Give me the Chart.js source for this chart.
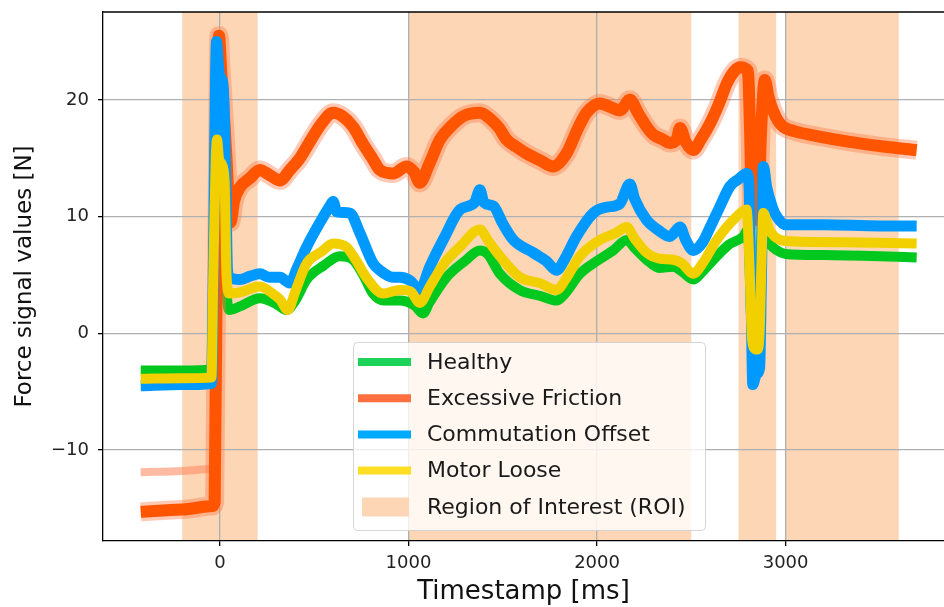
<!DOCTYPE html>
<html>
<head>
<meta charset="utf-8">
<script src="https://cdn.jsdelivr.net/npm/chart.js@4.4.1/dist/chart.umd.min.js"></script>
<style>
  body { margin: 0; background: #fff; }
  canvas { display: block; }
</style>
</head>
<body>
<canvas id="force-chart" width="944" height="607"></canvas>
<script>
// Values (ms, N)
const healthyT = [-420, -200, -45, -30, -18, -5, 10, 25, 35, 50, 106, 212, 300, 353, 400, 460, 550, 636, 706, 760, 812, 870, 954, 1030, 1078, 1110, 1202, 1300, 1379, 1420, 1485, 1591, 1700, 1785, 1830, 1909, 2000, 2086, 2157, 2200, 2263, 2330, 2404, 2450, 2510, 2560, 2635, 2700, 2776, 2800, 2812, 2822, 2845, 2862, 2875, 2890, 2920, 2955, 3000, 3200, 3500, 3695];
const healthyV = [-3.2, -3.2, -3.1, 10, 16, 15.5, 14, 12, 4, 2.0, 2.3, 3.0, 2.5, 2.0, 2.8, 4.6, 5.8, 6.6, 6.3, 5.0, 3.4, 2.8, 2.8, 2.4, 1.7, 2.6, 4.8, 6.2, 7.1, 6.8, 5.1, 3.7, 3.2, 2.8, 3.4, 5.1, 6.2, 7.1, 8.0, 7.3, 6.3, 5.6, 5.7, 5.3, 4.6, 5.3, 6.6, 7.6, 8.3, 8.9, 4, -0.5, -0.7, 2, 9.3, 8.6, 7.6, 7.1, 6.8, 6.7, 6.6, 6.5];

const frictionT = [-420, -200, -40, -28, -15, -5, 5, 20, 35, 50, 56, 75, 106, 160, 212, 260, 318, 371, 424, 480, 540, 600, 650, 706, 760, 812, 848, 918, 990, 1030, 1060, 1110, 1167, 1230, 1290, 1379, 1432, 1480, 1520, 1570, 1626, 1700, 1767, 1838, 1900, 1944, 2015, 2070, 2121, 2174, 2220, 2263, 2300, 2350, 2386, 2422, 2440, 2470, 2510, 2550, 2600, 2650, 2688, 2730, 2758, 2800, 2812, 2822, 2837, 2855, 2872, 2890, 2910, 2933, 2960, 2987, 3050, 3164, 3341, 3517, 3695];
const frictionV = [-15.3, -15.1, -14.8, -14.5, 10, 25.5, 23, 19, 15, 10, 9.5, 11.3, 12.5, 13.3, 14.0, 13.6, 13.1, 14.0, 15.0, 16.5, 18.0, 18.9, 18.6, 17.7, 16.2, 14.9, 14.0, 13.7, 14.3, 13.8, 12.9, 14.5, 16.6, 17.8, 18.6, 18.9, 18.4, 17.6, 16.6, 16.0, 15.4, 14.8, 14.3, 15.4, 17.6, 18.9, 19.7, 19.4, 19.1, 20.0, 18.8, 17.7, 17.0, 16.6, 16.3, 16.6, 17.6, 16.4, 15.7, 16.6, 18.0, 19.8, 21.4, 22.5, 22.8, 22.5, 17, 10.3, 9.7, 11, 18, 21.7, 20.2, 19.1, 18.2, 17.7, 17.3, 16.9, 16.4, 16.0, 15.7];
// second, fainter friction trace before the step
const frictionFaintT = [-420, -200, -45];
const frictionFaintV = [-11.9, -11.8, -11.6];

const commutationT = [-420, -200, -45, -35, -25, -18, -8, 0, 15, 25, 32, 40, 50, 106, 160, 212, 260, 318, 371, 410, 460, 520, 583, 600, 620, 689, 742, 812, 848, 918, 954, 1010, 1060, 1113, 1190, 1273, 1350, 1379, 1400, 1450, 1500, 1556, 1662, 1730, 1785, 1830, 1891, 1980, 2050, 2121, 2174, 2200, 2263, 2320, 2386, 2440, 2470, 2510, 2560, 2600, 2650, 2705, 2750, 2793, 2805, 2818, 2826, 2845, 2862, 2872, 2882, 2900, 2930, 2953, 3000, 3200, 3500, 3695];
const commutationV = [-4.5, -4.4, -4.3, 5, 20, 25, 23, 22, 21.5, 18, 12, 5.5, 4.8, 4.6, 4.9, 5.1, 4.8, 4.8, 4.3, 5.6, 7.4, 9.2, 10.9, 11.3, 10.4, 10.3, 8.6, 6.0, 5.4, 4.8, 4.8, 4.5, 3.7, 5.7, 8.2, 10.6, 11.2, 12.3, 11.2, 10.9, 9.4, 8.0, 6.9, 6.2, 5.4, 6.4, 8.3, 10.3, 10.8, 11.1, 12.8, 11.5, 9.7, 8.9, 8.3, 9.1, 8.0, 7.1, 7.8, 9.1, 10.8, 12.6, 13.2, 13.7, 13, 2, -4.4, -3.5, -3.0, 5, 14.3, 12.5, 10.8, 10.0, 9.3, 9.3, 9.2, 9.2];

const looseT = [-420, -200, -45, -35, -22, -15, -5, 10, 25, 35, 50, 106, 212, 280, 318, 360, 400, 460, 540, 600, 670, 720, 776, 865, 954, 1010, 1060, 1113, 1190, 1273, 1379, 1420, 1485, 1591, 1697, 1785, 1840, 1909, 2015, 2100, 2157, 2200, 2263, 2330, 2404, 2450, 2510, 2560, 2635, 2740, 2793, 2808, 2820, 2830, 2850, 2862, 2872, 2882, 2910, 2940, 3000, 3300, 3695];
const looseV = [-3.9, -3.85, -3.8, 5, 15, 16.6, 15, 14.5, 13, 5, 3.4, 3.5, 4.0, 3.4, 2.9, 2.0, 3.6, 6.0, 7.0, 7.7, 7.4, 6.3, 4.8, 3.4, 3.7, 3.6, 2.6, 4.0, 6.0, 7.4, 8.9, 8.0, 6.6, 4.8, 4.3, 3.7, 4.8, 6.6, 8.0, 8.6, 9.1, 8.1, 6.9, 6.4, 6.3, 6.0, 5.1, 6.0, 8.0, 10.0, 10.6, 6, 0, -1.2, -1.4, 0, 6, 10.3, 9.0, 8.3, 7.9, 7.8, 7.7];

// Regions of interest [start, end] in ms
const roiStart = [-200, 1000, 2750, 3000];
const roiEnd = [200, 2500, 2950, 3600];

const xTicks = [0, 1000, 2000, 3000];
const yTicks = [-10, 0, 10, 20];

const FONT = 'DejaVu Sans';
const ROI_COLOR = '#fdd6b5';

function toPoints(ts, vs) {
    return ts.map((t, i) => ({ x: t, y: vs[i] }));
}

function makeLine(label, ts, vs, color, width, order, legendColor) {
    return {
        label: label,
        data: toPoints(ts, vs),
        borderColor: color,
        borderWidth: width,
        pointRadius: 0,
        fill: false,
        cubicInterpolationMode: 'monotone',
        borderJoinStyle: 'round',
        order: order,
        legendColor: legendColor
    };
}

// Shaded ROI bands, under the grid
const roiPlugin = {
    id: 'roiBands',
    beforeDraw(chart) {
        const { ctx, chartArea, scales } = chart;
        ctx.save();
        ctx.fillStyle = ROI_COLOR;
        roiStart.forEach((s, i) => {
            const x0 = scales.x.getPixelForValue(s);
            const x1 = scales.x.getPixelForValue(roiEnd[i]);
            ctx.fillRect(x0, chartArea.top, x1 - x0, chartArea.bottom - chartArea.top);
        });
        ctx.restore();
    }
};

// Top spine plus the matplotlib style legend box
const legendPlugin = {
    id: 'boxLegend',
    afterDraw(chart) {
        const { ctx, chartArea } = chart;
        ctx.save();
        ctx.strokeStyle = '#000';
        ctx.lineWidth = 1.3;
        ctx.beginPath();
        ctx.moveTo(chartArea.left, chartArea.top);
        ctx.lineTo(chartArea.right, chartArea.top);
        ctx.stroke();

        const bx = chartArea.left + 250, by = chartArea.top + 330;
        ctx.fillStyle = 'rgba(255,255,255,0.8)';
        ctx.strokeStyle = 'rgba(204,204,204,0.8)';
        ctx.lineWidth = 1;
        ctx.beginPath();
        ctx.roundRect(bx + 0.5, by + 0.5, 352, 188, 4);
        ctx.fill();
        ctx.stroke();

        const items = chart.data.datasets.filter(d => d.legendColor);
        ctx.font = '22px "' + FONT + '"';
        ctx.textBaseline = 'middle';
        items.forEach((d, i) => {
            const cy = by + 20 + i * 36.2;
            ctx.strokeStyle = d.legendColor;
            ctx.lineWidth = 8;
            ctx.beginPath();
            ctx.moveTo(bx + 5, cy);
            ctx.lineTo(bx + 58, cy);
            ctx.stroke();
            ctx.fillStyle = '#1a1a1a';
            ctx.fillText(d.label, bx + 74, cy + 1);
        });
        const cy = by + 165;
        ctx.fillStyle = ROI_COLOR;
        ctx.fillRect(bx + 9, cy - 9.5, 47, 19);
        ctx.fillStyle = '#1a1a1a';
        ctx.fillText('Region of Interest (ROI)', bx + 74, cy + 1);
        ctx.restore();
    }
};

const halo = makeLine('', frictionT, frictionV, 'rgba(255,120,70,0.4)', 19, 3, null);
const faint = makeLine('', frictionFaintT, frictionFaintV, 'rgba(255,140,100,0.6)', 8, 3, null);

new Chart(document.getElementById('force-chart'), {
    type: 'line',
    data: {
        datasets: [
            makeLine('Healthy', healthyT, healthyV, '#00c81e', 10, 4, '#1cd35a'),
            makeLine('Excessive Friction', frictionT, frictionV, '#ff5500', 12, 2, '#ff7040'),
            makeLine('Commutation Offset', commutationT, commutationV, '#0099ff', 11, 1, '#00aaff'),
            makeLine('Motor Loose', looseT, looseV, '#f2d000', 10, 0, '#ffdd22'),
            halo,
            faint
        ]
    },
    options: {
        responsive: false,
        animation: false,
        devicePixelRatio: 1,
        layout: { autoPadding: false, padding: { top: 12, right: 0, left: 0, bottom: 0 } },
        plugins: {
            legend: { display: false },
            tooltip: { enabled: false }
        },
        scales: {
            x: {
                type: 'linear',
                min: -620,
                max: 3840,
                afterFit(scale) {
                    scale.height = 66;
                    scale.paddingLeft = 0;
                    scale.paddingRight = 0;
                },
                afterBuildTicks(scale) { scale.ticks = xTicks.map(v => ({ value: v })); },
                ticks: {
                    color: '#222',
                    padding: 7,
                    font: { family: FONT, size: 18 },
                    callback: v => String(v)
                },
                grid: { color: '#b0b0b0', lineWidth: 1.3, tickColor: '#000', tickLength: 5 },
                border: { color: '#000', width: 1.3 },
                title: {
                    display: true,
                    text: 'Timestamp [ms]',
                    color: '#111',
                    font: { family: FONT, size: 26, lineHeight: 1.1 },
                    padding: { top: 0, bottom: 0 }
                }
            },
            y: {
                min: -17.8,
                max: 27.53,
                afterFit(scale) {
                    scale.width = 103;
                    scale.paddingTop = 0;
                    scale.paddingBottom = 0;
                },
                afterBuildTicks(scale) { scale.ticks = yTicks.map(v => ({ value: v })); },
                ticks: {
                    color: '#222',
                    padding: 9,
                    font: { family: FONT, size: 18 },
                    callback: v => (v < 0 ? '\u2212' + Math.abs(v) : String(v))
                },
                grid: { color: '#b0b0b0', lineWidth: 1.3, tickColor: '#000', tickLength: 5 },
                border: { color: '#000', width: 1.3 },
                title: {
                    display: true,
                    text: 'Force signal values [N]',
                    color: '#111',
                    font: { family: FONT, size: 23, lineHeight: 1.2 },
                    padding: { top: 11, bottom: 0 }
                }
            }
        }
    },
    plugins: [roiPlugin, legendPlugin]
});
</script>
</body>
</html>
